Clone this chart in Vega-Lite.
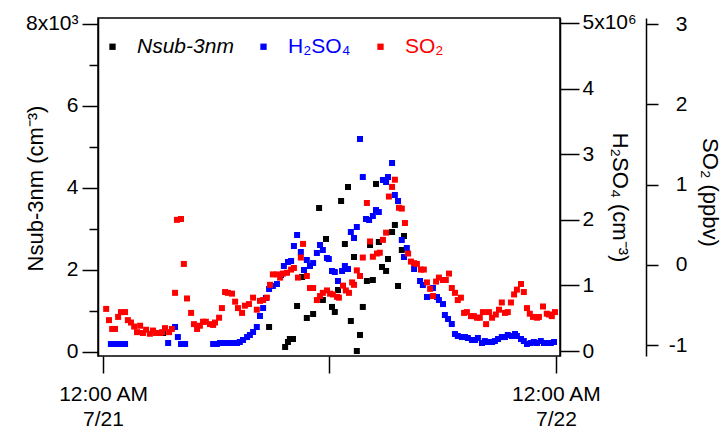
{
  "$schema": "https://vega.github.io/schema/vega-lite/v6.json",
  "width": 462,
  "height": 338,
  "autosize": {"type": "none"},
  "padding": {"left": 98, "top": 18, "right": 162, "bottom": 83},
  "background": "white",
  "config": {
    "font": "Liberation Sans",
    "view": {"stroke": "black", "strokeWidth": 1.5},
    "axis": {
      "domainColor": "black", "tickColor": "black", "labelColor": "black", "titleColor": "black",
      "domainWidth": 1.5, "tickWidth": 1.5, "labelFontSize": 21, "titleFontSize": 22,
      "titleFontWeight": "normal", "grid": false, "labelFont": "Liberation Sans", "titleFont": "Liberation Sans",
      "labelOverlap": false, "labelFlush": false, "labelBound": false
    }
  },
  "datasets": {
    "nsub": [
      {"t":"2013-07-21T03:11","v":463},{"t":"2013-07-21T08:48","v":610},{"t":"2013-07-21T09:39","v":122},
      {"t":"2013-07-21T09:48","v":244},{"t":"2013-07-21T09:54","v":317},{"t":"2013-07-21T10:04","v":317},
      {"t":"2013-07-21T10:17","v":1122},{"t":"2013-07-21T10:33","v":1829},{"t":"2013-07-21T10:48","v":829},
      {"t":"2013-07-21T11:08","v":927},{"t":"2013-07-21T11:27","v":3512},{"t":"2013-07-21T11:39","v":1268},
      {"t":"2013-07-21T11:49","v":2756},{"t":"2013-07-21T12:08","v":1098},{"t":"2013-07-21T12:17","v":976},
      {"t":"2013-07-21T12:27","v":1512},{"t":"2013-07-21T12:37","v":3683},{"t":"2013-07-21T12:49","v":2634},
      {"t":"2013-07-21T12:59","v":4024},{"t":"2013-07-21T13:08","v":756},{"t":"2013-07-21T13:18","v":2317},
      {"t":"2013-07-21T13:27","v":24},{"t":"2013-07-21T13:37","v":415},{"t":"2013-07-21T13:46","v":1098},
      {"t":"2013-07-21T13:59","v":1732},{"t":"2013-07-21T14:09","v":2610},{"t":"2013-07-21T14:18","v":1756},
      {"t":"2013-07-21T14:28","v":4098},{"t":"2013-07-21T14:37","v":2683},{"t":"2013-07-21T14:47","v":2073},
      {"t":"2013-07-21T15:00","v":1976},{"t":"2013-07-21T15:06","v":2268},{"t":"2013-07-21T15:19","v":2927},
      {"t":"2013-07-21T15:28","v":3098},{"t":"2013-07-21T15:38","v":1610},{"t":"2013-07-21T15:50","v":2488},
      {"t":"2013-07-21T15:57","v":2829}
    ],
    "h2so4": [
      {"t":"2013-07-21T00:25","v":107000},{"t":"2013-07-21T00:38","v":107000},{"t":"2013-07-21T00:48","v":107000},
      {"t":"2013-07-21T00:57","v":107000},{"t":"2013-07-21T01:10","v":107000},{"t":"2013-07-21T03:27","v":122000},
      {"t":"2013-07-21T03:49","v":366000},{"t":"2013-07-21T03:58","v":213000},{"t":"2013-07-21T04:08","v":107000},
      {"t":"2013-07-21T04:21","v":107000},{"t":"2013-07-21T05:50","v":107000},{"t":"2013-07-21T06:02","v":107000},
      {"t":"2013-07-21T06:12","v":122000},{"t":"2013-07-21T06:21","v":122000},{"t":"2013-07-21T06:34","v":122000},
      {"t":"2013-07-21T06:44","v":122000},{"t":"2013-07-21T06:53","v":122000},{"t":"2013-07-21T07:06","v":122000},
      {"t":"2013-07-21T07:15","v":137000},{"t":"2013-07-21T07:25","v":168000},{"t":"2013-07-21T07:38","v":213000},
      {"t":"2013-07-21T07:47","v":244000},{"t":"2013-07-21T07:57","v":290000},{"t":"2013-07-21T08:09","v":366000},
      {"t":"2013-07-21T08:19","v":534000},{"t":"2013-07-21T08:29","v":655000},{"t":"2013-07-21T08:38","v":808000},
      {"t":"2013-07-21T08:48","v":945000},{"t":"2013-07-21T09:00","v":991000},{"t":"2013-07-21T09:13","v":1021000},
      {"t":"2013-07-21T09:26","v":1159000},{"t":"2013-07-21T09:35","v":1296000},{"t":"2013-07-21T09:48","v":1357000},
      {"t":"2013-07-21T09:58","v":1372000},{"t":"2013-07-21T10:07","v":1601000},{"t":"2013-07-21T10:17","v":1768000},
      {"t":"2013-07-21T10:29","v":1509000},{"t":"2013-07-21T10:39","v":1235000},{"t":"2013-07-21T10:48","v":1387000},
      {"t":"2013-07-21T10:58","v":1296000},{"t":"2013-07-21T11:08","v":1341000},{"t":"2013-07-21T11:20","v":1494000},
      {"t":"2013-07-21T11:30","v":1616000},{"t":"2013-07-21T11:39","v":1540000},{"t":"2013-07-21T11:52","v":1418000},
      {"t":"2013-07-21T11:58","v":1402000},{"t":"2013-07-21T12:08","v":1220000},{"t":"2013-07-21T12:17","v":1204000},
      {"t":"2013-07-21T12:27","v":1067000},{"t":"2013-07-21T12:40","v":1220000},{"t":"2013-07-21T12:49","v":1296000},
      {"t":"2013-07-21T12:59","v":1250000},{"t":"2013-07-21T13:08","v":1814000},{"t":"2013-07-21T13:18","v":1723000},
      {"t":"2013-07-21T13:27","v":1890000},{"t":"2013-07-21T13:37","v":3232000},{"t":"2013-07-21T13:46","v":2652000},
      {"t":"2013-07-21T13:56","v":2012000},{"t":"2013-07-21T14:06","v":1997000},{"t":"2013-07-21T14:18","v":2058000},
      {"t":"2013-07-21T14:28","v":2149000},{"t":"2013-07-21T14:37","v":2119000},{"t":"2013-07-21T14:50","v":2607000},
      {"t":"2013-07-21T15:00","v":2576000},{"t":"2013-07-21T15:06","v":2652000},{"t":"2013-07-21T15:19","v":2866000},
      {"t":"2013-07-21T15:28","v":2378000},{"t":"2013-07-21T15:38","v":2287000},{"t":"2013-07-21T15:50","v":1692000},
      {"t":"2013-07-21T15:57","v":1433000},{"t":"2013-07-21T16:06","v":1570000},{"t":"2013-07-21T16:29","v":1250000},
      {"t":"2013-07-21T16:48","v":1067000},{"t":"2013-07-21T16:57","v":1006000},{"t":"2013-07-21T17:10","v":823000},
      {"t":"2013-07-21T17:29","v":960000},{"t":"2013-07-21T17:42","v":823000},{"t":"2013-07-21T17:48","v":777000},
      {"t":"2013-07-21T18:01","v":716000},{"t":"2013-07-21T18:07","v":549000},{"t":"2013-07-21T18:17","v":488000},
      {"t":"2013-07-21T18:29","v":412000},{"t":"2013-07-21T18:39","v":259000},{"t":"2013-07-21T18:48","v":229000},
      {"t":"2013-07-21T19:01","v":213000},{"t":"2013-07-21T19:11","v":213000},{"t":"2013-07-21T19:20","v":198000},
      {"t":"2013-07-21T19:33","v":168000},{"t":"2013-07-21T19:43","v":168000},{"t":"2013-07-21T19:52","v":198000},
      {"t":"2013-07-21T20:05","v":122000},{"t":"2013-07-21T20:14","v":152000},{"t":"2013-07-21T20:24","v":137000},
      {"t":"2013-07-21T20:37","v":137000},{"t":"2013-07-21T20:46","v":152000},{"t":"2013-07-21T20:56","v":183000},
      {"t":"2013-07-21T21:08","v":213000},{"t":"2013-07-21T21:18","v":213000},{"t":"2013-07-21T21:27","v":244000},
      {"t":"2013-07-21T21:40","v":229000},{"t":"2013-07-21T21:50","v":259000},{"t":"2013-07-21T21:56","v":229000},
      {"t":"2013-07-21T22:09","v":183000},{"t":"2013-07-21T22:18","v":152000},{"t":"2013-07-21T22:28","v":107000},
      {"t":"2013-07-21T22:40","v":122000},{"t":"2013-07-21T22:50","v":137000},{"t":"2013-07-21T23:00","v":122000},
      {"t":"2013-07-21T23:12","v":152000},{"t":"2013-07-21T23:22","v":122000},{"t":"2013-07-21T23:31","v":122000},
      {"t":"2013-07-21T23:44","v":122000},{"t":"2013-07-21T23:54","v":137000}
    ],
    "so2": [
      {"t":"2013-07-21T00:10","v":-0.55},{"t":"2013-07-21T00:19","v":-0.69},{"t":"2013-07-21T00:29","v":-0.80},
      {"t":"2013-07-21T00:38","v":-0.80},{"t":"2013-07-21T00:48","v":-0.65},{"t":"2013-07-21T00:57","v":-0.59},
      {"t":"2013-07-21T01:10","v":-0.59},{"t":"2013-07-21T01:19","v":-0.69},{"t":"2013-07-21T01:29","v":-0.72},
      {"t":"2013-07-21T01:39","v":-0.77},{"t":"2013-07-21T01:48","v":-0.84},{"t":"2013-07-21T01:58","v":-0.76},
      {"t":"2013-07-21T02:07","v":-0.85},{"t":"2013-07-21T02:17","v":-0.81},{"t":"2013-07-21T02:29","v":-0.86},
      {"t":"2013-07-21T02:39","v":-0.82},{"t":"2013-07-21T02:48","v":-0.85},{"t":"2013-07-21T03:01","v":-0.85},
      {"t":"2013-07-21T03:08","v":-0.84},{"t":"2013-07-21T03:17","v":-0.79},{"t":"2013-07-21T03:30","v":-0.84},
      {"t":"2013-07-21T03:39","v":-0.80},{"t":"2013-07-21T03:49","v":-0.35},{"t":"2013-07-21T03:55","v":0.56},
      {"t":"2013-07-21T04:08","v":0.57},{"t":"2013-07-21T04:17","v":0.01},{"t":"2013-07-21T04:27","v":-0.42},
      {"t":"2013-07-21T04:40","v":-0.60},{"t":"2013-07-21T04:49","v":-0.74},{"t":"2013-07-21T04:59","v":-0.80},
      {"t":"2013-07-21T05:08","v":-0.76},{"t":"2013-07-21T05:18","v":-0.71},{"t":"2013-07-21T05:27","v":-0.71},
      {"t":"2013-07-21T05:40","v":-0.74},{"t":"2013-07-21T05:50","v":-0.75},{"t":"2013-07-21T05:56","v":-0.72},
      {"t":"2013-07-21T06:09","v":-0.66},{"t":"2013-07-21T06:18","v":-0.54},{"t":"2013-07-21T06:28","v":-0.34},
      {"t":"2013-07-21T06:37","v":-0.35},{"t":"2013-07-21T06:50","v":-0.36},{"t":"2013-07-21T07:00","v":-0.46},
      {"t":"2013-07-21T07:09","v":-0.54},{"t":"2013-07-21T07:22","v":-0.60},{"t":"2013-07-21T07:31","v":-0.51},
      {"t":"2013-07-21T07:44","v":-0.49},{"t":"2013-07-21T07:57","v":-0.41},{"t":"2013-07-21T08:09","v":-0.56},
      {"t":"2013-07-21T08:19","v":-0.45},{"t":"2013-07-21T08:29","v":-0.44},{"t":"2013-07-21T08:41","v":-0.41},
      {"t":"2013-07-21T08:51","v":-0.25},{"t":"2013-07-21T09:00","v":-0.12},{"t":"2013-07-21T09:13","v":-0.12},
      {"t":"2013-07-21T09:23","v":-0.16},{"t":"2013-07-21T09:32","v":-0.11},{"t":"2013-07-21T09:45","v":-0.10},
      {"t":"2013-07-21T09:58","v":-0.06},{"t":"2013-07-21T10:07","v":-0.04},{"t":"2013-07-21T10:20","v":-0.16},
      {"t":"2013-07-21T10:29","v":0.09},{"t":"2013-07-21T10:36","v":0.26},{"t":"2013-07-21T10:48","v":-0.14},
      {"t":"2013-07-21T10:58","v":-0.29},{"t":"2013-07-21T11:08","v":-0.29},{"t":"2013-07-21T11:20","v":-0.44},
      {"t":"2013-07-21T11:30","v":-0.39},{"t":"2013-07-21T11:39","v":-0.35},{"t":"2013-07-21T11:52","v":-0.32},
      {"t":"2013-07-21T12:02","v":-0.36},{"t":"2013-07-21T12:11","v":-0.37},{"t":"2013-07-21T12:24","v":-0.40},
      {"t":"2013-07-21T12:30","v":-0.41},{"t":"2013-07-21T12:43","v":-0.26},{"t":"2013-07-21T12:52","v":-0.32},
      {"t":"2013-07-21T13:02","v":-0.35},{"t":"2013-07-21T13:12","v":-0.22},{"t":"2013-07-21T13:18","v":-0.25},
      {"t":"2013-07-21T13:27","v":-0.07},{"t":"2013-07-21T13:37","v":-0.14},{"t":"2013-07-21T13:46","v":0.09},
      {"t":"2013-07-21T13:59","v":0.77},{"t":"2013-07-21T14:09","v":0.29},{"t":"2013-07-21T14:18","v":0.10},
      {"t":"2013-07-21T14:31","v":0.14},{"t":"2013-07-21T14:40","v":0.15},{"t":"2013-07-21T14:50","v":0.31},
      {"t":"2013-07-21T15:00","v":0.40},{"t":"2013-07-21T15:09","v":0.85},{"t":"2013-07-21T15:19","v":0.97},
      {"t":"2013-07-21T15:28","v":1.06},{"t":"2013-07-21T15:41","v":0.71},{"t":"2013-07-21T15:50","v":0.70},
      {"t":"2013-07-21T16:00","v":0.52},{"t":"2013-07-21T16:10","v":0.14},{"t":"2013-07-21T16:19","v":0.04},
      {"t":"2013-07-21T16:29","v":0.02},{"t":"2013-07-21T16:38","v":0.01},{"t":"2013-07-21T16:51","v":-0.06},
      {"t":"2013-07-21T17:00","v":-0.06},{"t":"2013-07-21T17:10","v":-0.22},{"t":"2013-07-21T17:20","v":-0.30},
      {"t":"2013-07-21T17:29","v":-0.39},{"t":"2013-07-21T17:39","v":-0.21},{"t":"2013-07-21T17:48","v":-0.16},
      {"t":"2013-07-21T18:01","v":-0.19},{"t":"2013-07-21T18:10","v":-0.19},{"t":"2013-07-21T18:20","v":-0.11},
      {"t":"2013-07-21T18:29","v":-0.29},{"t":"2013-07-21T18:39","v":-0.35},{"t":"2013-07-21T18:48","v":-0.44},
      {"t":"2013-07-21T18:58","v":-0.41},{"t":"2013-07-21T19:08","v":-0.60},{"t":"2013-07-21T19:17","v":-0.59},
      {"t":"2013-07-21T19:30","v":-0.64},{"t":"2013-07-21T19:39","v":-0.64},{"t":"2013-07-21T19:49","v":-0.66},
      {"t":"2013-07-21T19:58","v":-0.66},{"t":"2013-07-21T20:08","v":-0.59},{"t":"2013-07-21T20:18","v":-0.74},
      {"t":"2013-07-21T20:27","v":-0.59},{"t":"2013-07-21T20:37","v":-0.66},{"t":"2013-07-21T20:49","v":-0.62},
      {"t":"2013-07-21T20:59","v":-0.56},{"t":"2013-07-21T21:08","v":-0.47},{"t":"2013-07-21T21:18","v":-0.60},
      {"t":"2013-07-21T21:27","v":-0.59},{"t":"2013-07-21T21:37","v":-0.47},{"t":"2013-07-21T21:47","v":-0.37},
      {"t":"2013-07-21T21:56","v":-0.31},{"t":"2013-07-21T22:09","v":-0.24},{"t":"2013-07-21T22:18","v":-0.34},
      {"t":"2013-07-21T22:28","v":-0.54},{"t":"2013-07-21T22:37","v":-0.61},{"t":"2013-07-21T22:47","v":-0.65},
      {"t":"2013-07-21T23:00","v":-0.66},{"t":"2013-07-21T23:06","v":-0.65},{"t":"2013-07-21T23:19","v":-0.52},
      {"t":"2013-07-21T23:31","v":-0.61},{"t":"2013-07-21T23:38","v":-0.62},{"t":"2013-07-21T23:47","v":-0.64},
      {"t":"2013-07-21T23:57","v":-0.59}
    ]
  },
  "encoding": {
    "x": {
      "field": "t", "type": "temporal",
      "scale": {"domain": [{"year":2013,"month":7,"date":20,"hours":23,"minutes":44},{"year":2013,"month":7,"date":22,"hours":0,"minutes":13}]},
      "axis": {
        "title": null,
        "values": [{"year":2013,"month":7,"date":21,"hours":0},{"year":2013,"month":7,"date":21,"hours":12},{"year":2013,"month":7,"date":22,"hours":0}],
        "labelExpr": "hours(datum.value) == 12 ? '' : [timeFormat(datum.value, '%I:%M %p'), timeFormat(datum.value, '%-m/%d')]",
        "tickSize": 17, "labelPadding": 10, "labelLineHeight": 25, "labelFontSize": 21, "domain": false
      }
    }
  },
  "layer": [
    {
      "data": {"name": "nsub"},
      "mark": {"type": "square", "size": 36, "opacity": 1},
      "encoding": {
        "y": {
          "field": "v", "type": "quantitative",
          "scale": {"domain": [-98, 8146], "nice": false, "zero": false},
          "axis": {
            "orient": "left",
            "title": "Nsub-3nm (cm⁻³)",
            "values": [0,1000,2000,3000,4000,5000,6000,7000,8000],
            "labelExpr": "datum.value == 8000 ? '8x10³' : (datum.value % 2000 == 0 ? format(datum.value/1000, 'd') : '')",
            "tickSize": {"condition": {"test": "datum.value % 2000 == 0", "value": 16}, "value": 9},
            "labelPadding": 4,
            "titleX": -51, "titleY": 170
          }
        },
        "color": {
          "datum": "Nsub-3nm",
          "scale": {"domain": ["Nsub-3nm", "H₂SO₄", "SO₂"], "range": ["#000000", "#0000ff", "#ff0000"]},
          "legend": {
            "title": null, "orient": "none", "direction": "horizontal", "legendX": 4, "legendY": 18,
            "symbolType": "square", "symbolSize": 40, "symbolStrokeWidth": 0,
            "labelFontSize": 21, "labelFont": "Liberation Sans", "labelOffset": 14, "columnPadding": 19, "padding": 0,
            "labelFontStyle": {"expr": "datum.value == 'Nsub-3nm' ? 'italic' : 'normal'"},
            "labelColor": {"expr": "datum.value == 'SO₂' ? '#ff0000' : (datum.value == 'H₂SO₄' ? '#0000ff' : '#000000')"}
          }
        }
      }
    },
    {
      "data": {"name": "h2so4"},
      "mark": {"type": "square", "size": 36, "opacity": 1},
      "encoding": {
        "y": {
          "field": "v", "type": "quantitative",
          "scale": {"domain": [-76000, 5076000], "nice": false, "zero": false},
          "axis": {
            "orient": "right",
            "title": "H₂SO₄ (cm⁻³)",
            "values": [0,1000000,2000000,3000000,4000000,5000000],
            "labelExpr": "datum.value == 5000000 ? '5x10⁶' : format(datum.value/1000000, 'd')",
            "tickSize": 19, "labelPadding": 3,
            "titleX": 47, "titleY": 179
          }
        },
        "color": {"datum": "H₂SO₄"}
      }
    },
    {
      "data": {"name": "so2"},
      "mark": {"type": "square", "size": 36, "opacity": 1},
      "encoding": {
        "y": {
          "field": "v", "type": "quantitative",
          "scale": {"domain": [-1.137, 3.075], "nice": false, "zero": false},
          "axis": {
            "orient": "right", "offset": 86,
            "title": "SO₂ (ppbv)",
            "values": [-1,0,1,2,3],
            "labelExpr": "datum.value < 0 ? '-' + abs(datum.value) : '' + datum.value",
            "tickSize": 12, "labelPadding": 29, "labelAlign": "right",
            "titleX": 51, "titleY": 174
          }
        },
        "color": {"datum": "SO₂"}
      }
    }
  ],
  "resolve": {"scale": {"y": "independent"}, "axis": {"y": "independent"}}
}
